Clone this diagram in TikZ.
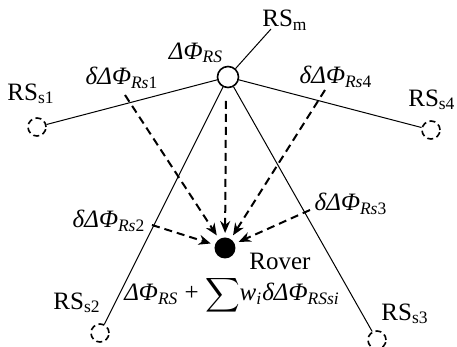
\documentclass[tikz,border=0pt]{standalone}
\usepackage{amsmath}
\usepackage{fontspec}
\setmainfont{Liberation Serif}
\usetikzlibrary{arrows.meta}
\newcommand{\ddphi}[1]{\textit{δΔΦ}\textsubscript{\textit{Rs}#1}}
\newcommand{\rsname}[1]{RS\textsubscript{#1}}

\begin{document}
\begin{tikzpicture}[x=0.5pt, y=-0.5pt, >={Stealth[length=6pt,width=5pt]},
    font=\fontsize{12.5}{15}\selectfont, line width=0.5pt]
      \useasboundingbox (0,0) rectangle (457,347);
      % stations
      \node[draw, circle, line width=0.8pt, minimum size=10.5pt, inner sep=0pt] (master) at (228,77) {};
      \node[draw, circle, line width=0.8pt, dash pattern=on 3pt off 1.8pt, minimum size=9pt, inner sep=0pt] (s1) at (37,127) {};
      \node[draw, circle, line width=0.8pt, dash pattern=on 3pt off 1.8pt, minimum size=9pt, inner sep=0pt] (s2) at (100,333) {};
      \node[draw, circle, line width=0.8pt, dash pattern=on 3pt off 1.8pt, minimum size=9pt, inner sep=0pt] (s3) at (377,340) {};
      \node[draw, circle, line width=0.8pt, dash pattern=on 3pt off 1.8pt, minimum size=9pt, inner sep=0pt] (s4) at (431,130) {};
      \node[fill, circle, minimum size=10.5pt, inner sep=0pt] (rover) at (225,248) {};
      \coordinate (mtip) at (271,29);

      % baselines
      \draw (master) -- (mtip);
      \draw (master) -- (s1);
      \draw (master) -- (s2);
      \draw (master) -- (s3);
      \draw (master) -- (s4);

      % corrections to the rover
      \coordinate (c0) at (226,101);
      \coordinate (c1) at (125,95);
      \coordinate (c2) at (152,225);
      \coordinate (c3) at (310,210);
      \coordinate (c4) at (325,90);
      \draw[->, line width=1pt, dash pattern=on 4pt off 2.5pt, shorten >=2pt] (c0) -- (rover);
      \draw[->, line width=1pt, dash pattern=on 4pt off 2.5pt, shorten >=2pt] (c1) -- (rover);
      \draw[->, line width=1pt, dash pattern=on 4pt off 2.5pt, shorten >=2pt] (c2) -- (rover);
      \draw[->, line width=1pt, dash pattern=on 4pt off 2.5pt, shorten >=2pt] (c3) -- (rover);
      \draw[->, line width=1pt, dash pattern=on 4pt off 2.5pt, shorten >=2pt] (c4) -- (rover);

      % labels
      \node (lm) at (285,20) {\rsname{m}};
      \node (ls1) at (31,94) {\rsname{s1}};
      \node (ls2) at (77,303) {\rsname{s2}};
      \node (ls3) at (405,314) {\rsname{s3}};
      \node[anchor=east, inner sep=0pt] (ls4) at (456,100) {\rsname{s4}};
      \node (lphi) at (196,53) {\textit{ΔΦ}\textsubscript{\textit{RS}}};
      \node (ld1) at (122,78) {\ddphi{1}};
      \node (ld2) at (109,221) {\ddphi{2}};
      \node (ld3) at (351,204) {\ddphi{3}};
      \node (ld4) at (336,77) {\ddphi{4}};
      \node (lrover) at (280,261) {Rover};
      \node (lsum) at (232,295) {\textit{ΔΦ}\textsubscript{\textit{RS}} + $\displaystyle\sum$\textit{w}\textsubscript{\textit{i}}\textit{δΔΦ}\textsubscript{\textit{RSsi}}};
    \end{tikzpicture}
\end{document}
